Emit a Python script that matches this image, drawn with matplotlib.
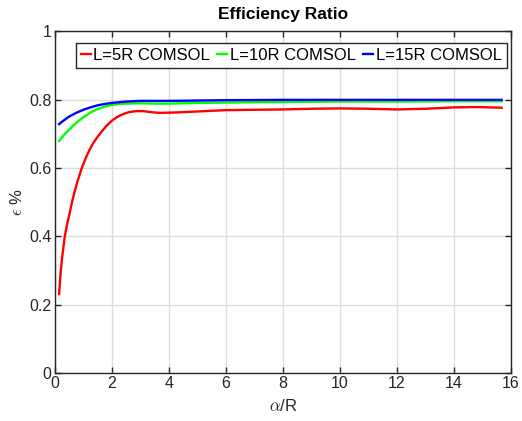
import matplotlib
matplotlib.use("Agg")
import matplotlib.pyplot as plt

plt.rcParams['font.family'] = ['Liberation Sans', 'DejaVu Sans']
plt.rcParams['mathtext.fontset'] = 'cm'

x_red = [0.15, 0.2, 0.26, 0.35, 0.43, 0.5, 0.62, 0.7, 0.8, 0.94, 1.08, 1.2, 1.35, 1.5,
         1.65, 1.8, 2.0, 2.15, 2.3, 2.45, 2.6, 2.75, 2.9, 3.1, 3.3, 3.5, 3.7, 4.2, 5, 6,
         7, 8, 9, 10, 11, 12, 13, 14, 14.8, 15.67]
y_red = [0.231, 0.29, 0.34, 0.40, 0.435, 0.46, 0.506, 0.532, 0.562, 0.598, 0.628, 0.65,
         0.673, 0.691, 0.707, 0.722, 0.738, 0.747, 0.754, 0.759, 0.763, 0.765, 0.766,
         0.766, 0.764, 0.762, 0.761, 0.762, 0.765, 0.769, 0.770, 0.771, 0.773, 0.774,
         0.773, 0.771, 0.773, 0.777, 0.778, 0.776]

x_gb = [0.15, 0.3, 0.5, 0.75, 1.0, 1.25, 1.5, 1.75, 2, 2.25, 2.5, 3, 3.5, 4, 5, 6, 8,
        10, 12, 14, 15.67]
y_green = [0.679, 0.695, 0.712, 0.732, 0.748, 0.762, 0.772, 0.779, 0.784, 0.787, 0.788,
           0.789, 0.788, 0.788, 0.79, 0.791, 0.793, 0.794, 0.794, 0.795, 0.795]
y_blue = [0.728, 0.738, 0.75, 0.761, 0.77, 0.777, 0.783, 0.787, 0.79, 0.792, 0.794,
          0.796, 0.796, 0.796, 0.797, 0.798, 0.799, 0.799, 0.799, 0.799, 0.799]

labels = ['L=5R COMSOL', 'L=10R COMSOL', 'L=15R COMSOL']
xticks = [0, 2, 4, 6, 8, 10, 12, 14, 16]
yticks = [0, 0.2, 0.4, 0.6, 0.8, 1]
yticklabels = ['0', '0.2', '0.4', '0.6', '0.8', '1']

fig = plt.figure(figsize=(5.22, 4.21), dpi=100)
ax = fig.add_axes([0.105, 0.114, 0.874, 0.812])

ax.plot(x_red, y_red, color='#ff0000', lw=1.7, label=labels[0])
ax.plot(x_gb, y_green, color='#00ff00', lw=1.7, label=labels[1])
ax.plot(x_gb, y_blue, color='#0000ff', lw=1.7, label=labels[2])

ax.set_xlim(0, 16)
ax.set_ylim(0, 1)
ax.set_xticks(xticks)
ax.set_yticks(yticks)
ax.set_yticklabels(yticklabels)
ax.grid(True, color='#dcdcdc', lw=1.0)
ax.set_axisbelow(True)
ax.tick_params(direction='in', top=True, right=True, labelsize=11.5,
               colors='#262626', length=4, width=1.0, pad=2.5)
for s in ax.spines.values():
    s.set_color('#262626')
    s.set_linewidth(1.0)

ax.set_title('Efficiency Ratio', fontsize=12.5, fontweight='bold', pad=9)
ax.set_xlabel(r'$\alpha$/R', fontsize=12, color='#262626', labelpad=5)
ax.set_ylabel(r'$\epsilon$ %', fontsize=12, color='#262626', labelpad=3)

leg = ax.legend(loc='upper right', bbox_to_anchor=(0.991, 0.965), ncol=3, fontsize=12,
                frameon=True, fancybox=False, edgecolor='#262626', handlelength=0.6,
                handletextpad=0.15, columnspacing=0.45, borderpad=0.3,
                borderaxespad=0.0, framealpha=1)
leg.get_frame().set_linewidth(1.0)

fig.savefig('out.png', dpi=100)
